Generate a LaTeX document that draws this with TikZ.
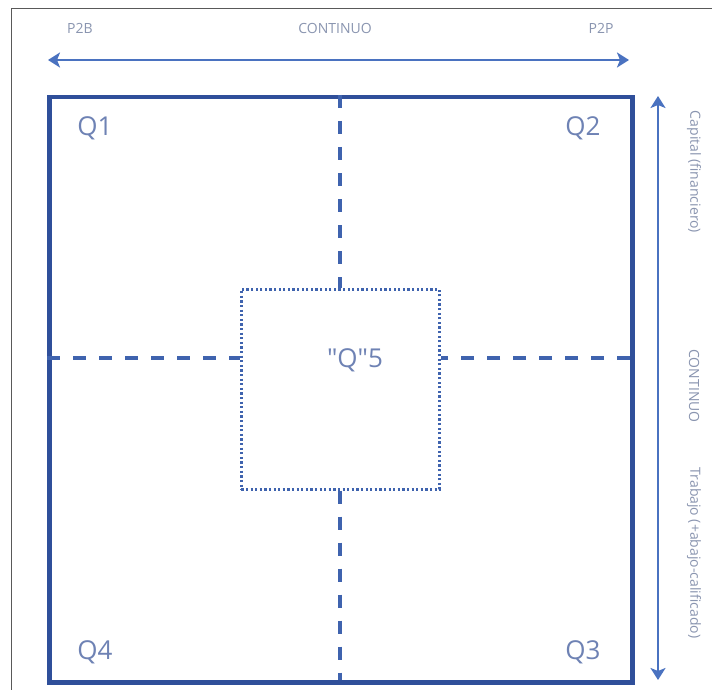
\documentclass[tikz,border=0pt]{standalone}
\usepackage{fontspec}
\setmainfont{Open Sans}
\newfontfamily\qfont{Open Sans}[Ligatures=TeXOff]
\usetikzlibrary{arrows.meta}
\definecolor{frame}{HTML}{2F4F9A}
\definecolor{arr}{HTML}{4A72C0}
\definecolor{dash}{HTML}{3F63AE}
\definecolor{qtext}{HTML}{6E82B4}
\definecolor{ltext}{HTML}{8A95B0}
\tikzset{
  qlabel/.style={text=qtext, font=\fontsize{26}{30}\selectfont, inner sep=0pt},
  smalllabel/.style={text=ltext, font=\fontsize{14}{16}\selectfont, inner sep=0pt},
  sidelabel/.style={text=ltext, font=\fontsize{14}{16}\selectfont, inner sep=0pt, rotate=-90},
  axis/.style={draw=arr, line width=2.8pt, {Stealth[length=12pt,width=15pt,inset=3pt]}-{Stealth[length=12pt,width=15pt,inset=3pt]}},
  divider/.style={draw=dash, line width=3.5pt, dash pattern=on 13pt off 13pt},
  inner/.style={draw=dash, line width=2.6pt, dash pattern=on 2.2pt off 2.4pt},
}
\begin{document}
\begin{tikzpicture}[x=1pt,y=-1pt]
\useasboundingbox (0,0) rectangle (712,690);
\fill[white] (0,0) rectangle (712,690);
% outer gray frame (partial, as in the crop)
\draw[gray!70!black, line width=1pt] (11,690) -- (11,9) -- (712,9);
% main square
\node[draw=frame, line width=4.5pt, minimum width=583pt, minimum height=585pt, inner sep=0pt, anchor=north west] (main) at (47,95) {};
% inner dotted square
\node[inner, minimum width=198pt, minimum height=200pt, inner sep=0pt, anchor=north west] (q5) at (240,288) {};
\node[qlabel] (q5t) at (355,360) {{\qfont "Q"5}};
% dividers
\coordinate (ttop) at (340,95);
\coordinate (tbot) at (340,680);
\coordinate (lft) at (47,358);
\coordinate (rgt) at (630,358);
\draw[divider] (ttop) -- (q5.north -| ttop);
\draw[divider] (q5.south -| tbot) -- (tbot);
\draw[divider] (lft) -- (q5.west |- lft);
\draw[divider] (rgt) -- (q5.east |- rgt);
% quadrant labels
\node[qlabel] (q1) at (95,128) {Q1};
\node[qlabel] (q2) at (583,128) {Q2};
\node[qlabel] (q4) at (95,652) {Q4};
\node[qlabel] (q3) at (583,652) {Q3};
% top axis
\coordinate (ha) at (48,60);
\coordinate (hb) at (629,60);
\draw[axis] (ha) -- (hb);
\node[smalllabel] (p2b) at (80,28) {P2B};
\node[smalllabel] (cont1) at (335,28) {CONTINUO};
\node[smalllabel] (p2p) at (601,28) {P2P};
% right axis
\coordinate (va) at (658,96);
\coordinate (vb) at (658,680);
\draw[axis] (va) -- (vb);
\node[sidelabel] (cap) at (694,172) {Capital (financiero)};
\node[sidelabel] (cont2) at (694,386) {CONTINUO};
\node[sidelabel] (trab) at (694,553) {Trabajo (+abajo-calificado)};
\end{tikzpicture}
\end{document}
